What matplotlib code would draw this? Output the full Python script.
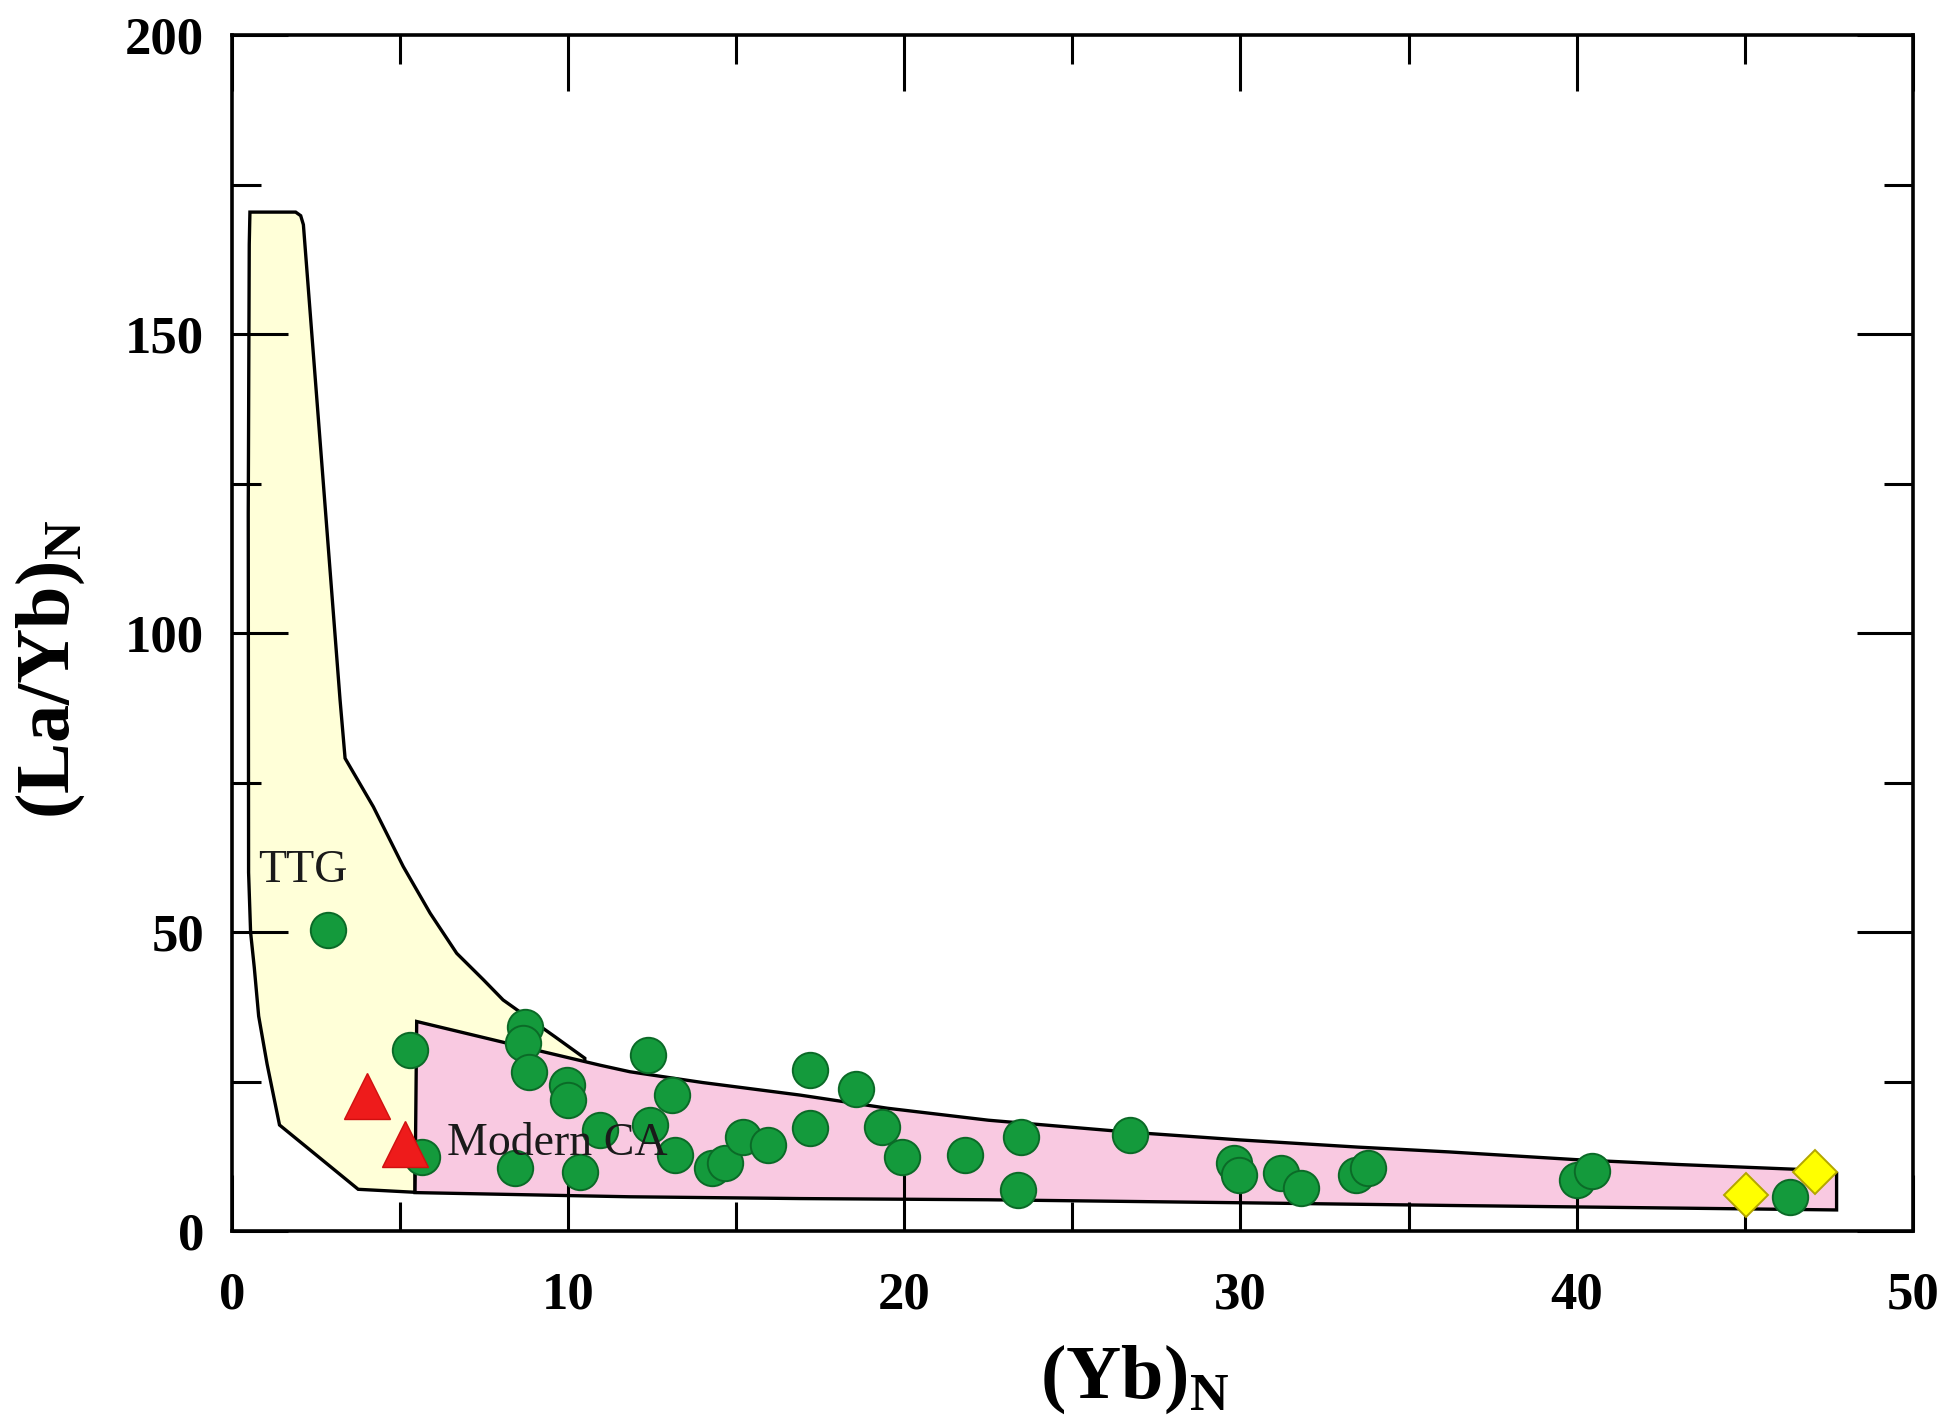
import matplotlib
matplotlib.use('Agg')
import matplotlib.pyplot as plt

plt.rcParams['font.family'] = ['Liberation Serif', 'DejaVu Serif']
plt.rcParams['mathtext.fontset'] = 'custom'
plt.rcParams['mathtext.rm'] = 'Liberation Serif'
plt.rcParams['mathtext.bf'] = 'Liberation Serif:bold'

# ---- data ----
# TTG field outline
ttg_x = [0.54, 1.90, 2.05, 2.13, 3.22, 3.37, 4.21, 5.10, 5.90, 6.69, 7.48, 8.07,
         8.57, 9.60, 10.50, 10.50, 8.00, 5.45, 5.45, 3.76, 1.42, 1.05, 0.80,
         0.67, 0.56, 0.50, 0.49, 0.52]
ttg_y = [170.4, 170.4, 169.8, 168.3, 88.9, 79.1, 71.0, 61.0, 53.2, 46.5, 42.1, 38.7,
         36.7, 32.6, 28.96, 28.1, 20.0, 12.0, 6.55, 7.05, 17.8, 28.0, 36.0,
         44.1, 50.0, 60.0, 120.0, 165.0]

# Modern calc-alkaline field outline
mca_x = [5.50, 8.17, 10.95, 11.84, 14.0, 16.90, 19.5, 22.50, 26.70, 30.00, 33.50,
         36.20, 40.00, 43.0, 46.50, 47.73, 47.73, 36.20, 30.00, 22.50, 16.90,
         11.84, 5.45]
mca_y = [35.1, 31.5, 27.8, 26.7, 24.9, 22.8, 20.6, 18.6, 16.6, 15.3, 14.1,
         13.3, 12.0, 11.2, 10.4, 9.7, 3.6, 4.35, 4.8, 5.3, 5.5,
         5.8, 6.5]

# Green circles
green_x = [2.87, 5.30, 5.65, 8.72, 8.67, 8.84, 8.42, 9.96, 10.00, 10.35, 10.95,
           12.38, 12.43, 13.08, 13.18, 14.27, 14.66, 15.21, 15.95, 17.19, 17.19,
           18.58, 19.35, 19.92, 21.80, 23.48, 23.38, 26.70, 29.82, 29.97, 31.20,
           31.80, 33.44, 33.79, 40.00, 40.45, 46.33]
green_y = [50.4, 30.35, 12.5, 34.25, 31.5, 26.7, 10.6, 24.5, 22.0, 10.0, 17.0,
           29.5, 17.8, 22.8, 12.8, 10.6, 11.4, 15.85, 14.5, 27.0, 17.3,
           23.9, 17.5, 12.5, 12.8, 15.75, 6.9, 16.1, 11.4, 9.45, 9.7,
           7.2, 9.45, 10.6, 8.6, 10.1, 5.8]

# Red triangles
red_x = [4.01, 5.15]
red_y = [22.66, 14.63]

# Yellow diamonds
yel_x = [45.05, 47.10]
yel_y = [6.1, 10.0]

xticks = [0, 10, 20, 30, 40, 50]
yticks = [0, 50, 100, 150, 200]

# ---- figure ----
fig = plt.figure(figsize=(19.46, 14.24), dpi=100)
ax = fig.add_axes([0.1191, 0.1352, 0.8639, 0.8402])

ax.fill(ttg_x, ttg_y, facecolor='#FFFFD8', edgecolor='black', lw=2.4, zorder=1.0)
ax.fill(mca_x, mca_y, facecolor='#F9C9E1', edgecolor='black', lw=2.4, zorder=1.1)

ax.plot(green_x, green_y, ls='none', marker='o', ms=25.5, mfc='#149A3C',
        mec='#0B6A27', mew=1.4, zorder=3)
ax.plot(red_x, red_y, ls='none', marker='^', ms=33, mfc='#EE1B1B',
        mec='#D01010', mew=1.0, zorder=4)
ax.plot(yel_x, yel_y, ls='none', marker='D', ms=22, mfc='#FFFF00',
        mec='#B3A600', mew=1.4, zorder=4)

ax.text(0.79, 58.5, 'TTG', fontsize=33, color='#1A1A1A', ha='left',
        va='baseline', zorder=5)
ax.text(6.39, 12.8, 'Modern CA', fontsize=33, color='#1A1A1A', ha='left',
        va='baseline', zorder=5)

ax.set_xlim(0, 50)
ax.set_ylim(0, 200)
ax.set_xticks(xticks)
ax.set_xticklabels([str(v) for v in xticks], fontsize=38, fontweight='bold')
ax.set_yticks(yticks)
ax.set_yticklabels([str(v) for v in yticks], fontsize=38, fontweight='bold')
ax.set_xticks([5, 15, 25, 35, 45], minor=True)
ax.set_yticks([25, 75, 125, 175], minor=True)

ax.tick_params(which='both', direction='in', top=True, right=True, width=2.2,
               color='black')
ax.tick_params(which='major', length=40)
ax.tick_params(which='minor', length=21)
ax.tick_params(axis='x', which='major', pad=29)
ax.tick_params(axis='y', which='major', pad=20)

for sp in ax.spines.values():
    sp.set_linewidth(2.6)

fig.text(0.5344, 0.057, r'$\mathbf{(Yb)}_{\mathbf{N}}$', fontsize=55,
         ha='left', va='top')
fig.text(0.0257, 0.425, r'$\mathbf{(La/Yb)}_{\mathbf{N}}$', fontsize=55,
         rotation=90, ha='center', va='bottom')

fig.savefig('out.png', dpi=100, facecolor='white')
